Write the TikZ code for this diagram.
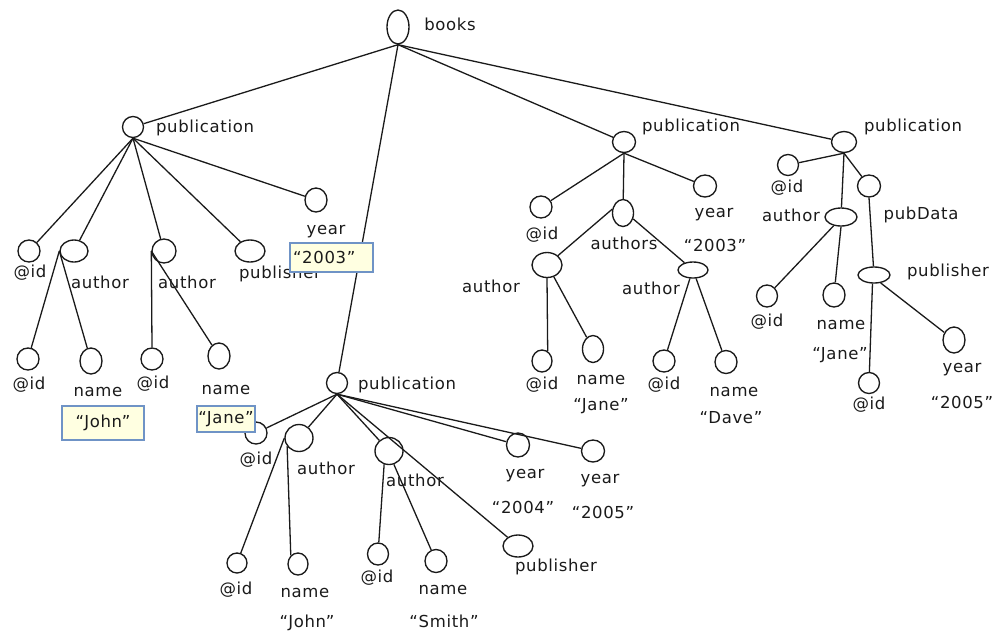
\documentclass[tikz,border=0pt]{standalone}
\usepackage{fontspec}
\setmainfont{DejaVu Sans}[LetterSpace=4]
\usetikzlibrary{shapes.geometric}
\definecolor{ink}{HTML}{1A1A1A}
\definecolor{notefill}{HTML}{FFFFE1}
\definecolor{noteline}{HTML}{6F93C6}
\tikzset{
  vtx/.style 2 args={ellipse, draw=ink, line width=1.35pt, inner sep=0pt,
    minimum width=#1pt, minimum height=#2pt},
  lbl/.style={font=\fontsize{16.5}{18}\selectfont, text=ink, inner sep=0pt},
  note/.style={draw=noteline, fill=notefill, line width=1.4pt,
    font=\fontsize{16.5}{18}\selectfont, text=ink, inner sep=0pt},
  edge/.style={draw=ink, line width=1.3pt},
}
\begin{document}
\begin{tikzpicture}[x=1pt, y=-1pt]
\useasboundingbox (0,0) rectangle (992,633);

% ---------- tree nodes ----------
\node[vtx={22}{34}] (root) at (398,27) {};

% first publication
\node[vtx={21}{21}] (pA) at (133,127) {};
\node[vtx={22}{22}] (pAid) at (29,251) {};
\node[vtx={28}{22}] (pAa1) at (74,251) {};
\node[vtx={24}{24}] (pAa2) at (164,251) {};
\node[vtx={30}{22}] (pApub) at (250,251) {};
\node[vtx={22}{24}] (pAyear) at (316,200) {};
\node[vtx={22}{22}] (pAa1id) at (28,359) {};
\node[vtx={22}{26}] (pAa1name) at (91,361) {};
\node[vtx={22}{22}] (pAa2id) at (152,359) {};
\node[vtx={22}{26}] (pAa2name) at (219,356) {};

% middle publication
\node[vtx={21}{21}] (pM) at (337,383) {};
\node[vtx={22}{22}] (pMid) at (256,433) {};
\node[vtx={28}{27}] (pMa1) at (299,438) {};
\node[vtx={28}{27}] (pMa2) at (389,451) {};
\node[vtx={23}{24}] (pMy1) at (518,445) {};
\node[vtx={23}{22}] (pMy2) at (593,451) {};
\node[vtx={30}{22}] (pMpub) at (518,546) {};
\node[vtx={20}{20}] (pMa1id) at (237,563) {};
\node[vtx={20}{22}] (pMa1name) at (298,564) {};
\node[vtx={21}{22}] (pMa2id) at (378,554) {};
\node[vtx={22}{23}] (pMa2name) at (436,561) {};

% second publication
\node[vtx={23}{21}] (pB) at (624,142) {};
\node[vtx={22}{22}] (pBid) at (541,207) {};
\node[vtx={21}{27}] (pBauth) at (623,213) {};
\node[vtx={23}{22}] (pByear) at (705,186) {};
\node[vtx={30}{25}] (pBa1) at (547,265) {};
\node[vtx={30}{16}] (pBa2) at (693,270) {};
\node[vtx={20}{22}] (pBa1id) at (542,361) {};
\node[vtx={21}{27}] (pBa1name) at (593,349) {};
\node[vtx={22}{22}] (pBa2id) at (664,361) {};
\node[vtx={22}{23}] (pBa2name) at (726,362) {};

% third publication
\node[vtx={25}{21}] (pC) at (844,142) {};
\node[vtx={21}{21}] (pCid) at (788,165) {};
\node[vtx={32}{18}] (pCauth) at (841,217) {};
\node[vtx={23}{22}] (pCdata) at (869,186) {};
\node[vtx={32}{16}] (pCpub) at (874,275) {};
\node[vtx={21}{22}] (pCaid) at (767,296) {};
\node[vtx={22}{24}] (pCaname) at (834,295) {};
\node[vtx={21}{21}] (pCpid) at (869,383) {};
\node[vtx={22}{26}] (pCpyear) at (954,340) {};

% ---------- connectors ----------
\draw[edge] (root.south) -- (pA);
\draw[edge] (root.south) -- (pM);
\draw[edge] (root.south) -- (pB);
\draw[edge] (root.south) -- (pC);

\draw[edge] (pA.south) -- (pAid);
\draw[edge] (pA.south) -- (pAa1);
\draw[edge] (pA.south) -- (pAa2);
\draw[edge] (pA.south) -- (pApub);
\draw[edge] (pA.south) -- (pAyear);
\draw[edge] (pAa1.west) -- (pAa1id);
\draw[edge] (pAa1.west) -- (pAa1name);
\draw[edge] (pAa2.west) -- (pAa2id.north);
\draw[edge] (pAa2.west) -- (pAa2name);

\draw[edge] (pM.south) -- (pMid);
\draw[edge] (pM.south) -- (pMa1);
\draw[edge] (pM.south) -- (pMa2);
\draw[edge] (pM.south) -- (pMy1);
\draw[edge] (pM.south) -- (pMy2);
\draw[edge] (pM.south) -- (pMpub);
\draw[edge] (pMa1.west) -- (pMa1id);
\draw[edge] (pMa1.215) -- (pMa1name.130);
\draw[edge] (pMa2.250) -- (pMa2id);
\draw[edge] (pMa2.290) -- (pMa2name);

\draw[edge] (pB.south) -- (pBid);
\draw[edge] (pB.south) -- (pBauth);
\draw[edge] (pB.south) -- (pByear);
\draw[edge] (pBauth.160) -- (pBa1);
\draw[edge] (pBauth.330) -- (pBa2);
\draw[edge] (pBa1.south) -- (pBa1id.60);
\draw[edge] (pBa1.300) -- (pBa1name);
\draw[edge] (pBa2.250) -- (pBa2id);
\draw[edge] (pBa2.290) -- (pBa2name);

\draw[edge] (pC.south) -- (pCid);
\draw[edge] (pC.south) -- (pCauth);
\draw[edge] (pC.south) -- (pCdata);
\draw[edge] (pCauth.230) -- (pCaid);
\draw[edge] (pCauth.south) -- (pCaname);
\draw[edge] (pCdata.south) -- (pCpub);
\draw[edge] (pCpub.260) -- (pCpid);
\draw[edge] (pCpub.310) -- (pCpyear);

% ---------- labels ----------
\node[lbl] (tRoot) at (450,24) {books};

\node[lbl] (tA) at (205,128) {publication};
\node[lbl] (tAid) at (30,273) {@id};
\node[lbl] (tAa1) at (100,282) {author};
\node[lbl] (tAa2) at (187,282) {author};
\node[lbl] (tApub) at (280,274) {publisher};
\node[lbl] (tAyear) at (326,232) {year};
\node[note, minimum width=83pt, minimum height=29pt, text width=77pt, align=left]
  (vAyear) at (331.5,257.5) {“2003”};
\node[lbl] (tAa1id) at (29,385) {@id};
\node[lbl] (tAa1name) at (98,392) {name};
\node[note, minimum width=82pt, minimum height=34pt] (vAa1) at (103,423) {“John”};
\node[lbl] (tAa2id) at (153,384) {@id};
\node[lbl] (tAa2name) at (226,390) {name};
\node[note, minimum width=58pt, minimum height=26pt] (vAa2) at (226,419) {“Jane”};

\node[lbl] (tM) at (407,385) {publication};
\node[lbl] (tMid) at (256,460) {@id};
\node[lbl] (tMa1) at (326,468) {author};
\node[lbl] (tMa2) at (415,480) {author};
\node[lbl] (tMy1) at (525,476) {year};
\node[lbl] (vMy1) at (523,507) {“2004”};
\node[lbl] (tMy2) at (600,481) {year};
\node[lbl] (vMy2) at (603,512) {“2005”};
\node[lbl] (tMpub) at (556,567) {publisher};
\node[lbl] (tMa1id) at (236,590) {@id};
\node[lbl] (tMa1name) at (305,593) {name};
\node[lbl] (vMa1name) at (307,623) {“John”};
\node[lbl] (tMa2id) at (377,578) {@id};
\node[lbl] (tMa2name) at (443,590) {name};
\node[lbl] (vMa2name) at (444,621) {“Smith”};

\node[lbl] (tB) at (691,127) {publication};
\node[lbl] (tBid) at (542,235) {@id};
\node[lbl] (tBauth) at (624,243) {authors};
\node[lbl] (tByear) at (714,215) {year};
\node[lbl] (vByear) at (715,245) {“2003”};
\node[lbl] (tBa1) at (491,286) {author};
\node[lbl] (tBa2) at (651,288) {author};
\node[lbl] (tBa1id) at (542,385) {@id};
\node[lbl] (tBa1name) at (601,380) {name};
\node[lbl] (vBa1name) at (601,406) {“Jane”};
\node[lbl] (tBa2id) at (664,385) {@id};
\node[lbl] (tBa2name) at (734,392) {name};
\node[lbl] (vBa2name) at (731,418) {“Dave”};

\node[lbl] (tC) at (913,127) {publication};
\node[lbl] (tCid) at (787,188) {@id};
\node[lbl] (tCauth) at (791,215) {author};
\node[lbl] (tCdata) at (921,215) {pubData};
\node[lbl] (tCpub) at (948,272) {publisher};
\node[lbl] (tCaid) at (767,322) {@id};
\node[lbl] (tCaname) at (841,325) {name};
\node[lbl] (vCaname) at (840,355) {“Jane”};
\node[lbl] (tCpid) at (869,405) {@id};
\node[lbl] (tCpyear) at (962,370) {year};
\node[lbl] (vCpyear) at (962,402) {“2005”};
\end{tikzpicture}
\end{document}
